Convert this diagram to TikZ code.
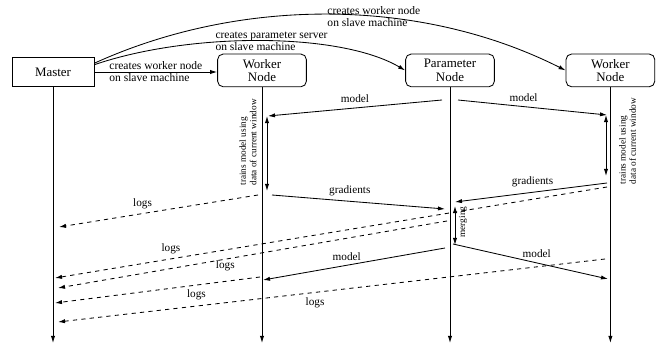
\documentclass[tikz,border=0pt]{standalone}
\usepackage{fontspec}
\setmainfont{Liberation Serif}
\usetikzlibrary{
    arrows.meta,
    calc,
    positioning
}

\begin{document}
\begin{tikzpicture}[
    >={Latex[length=5pt,width=3pt]},
    line width=0.6pt,
    master/.style={draw, minimum width=2.05cm, minimum height=0.72cm, font=\fontsize{9.2}{9.5}\selectfont},
    actor/.style={draw, rounded corners=4pt, minimum width=2.22cm, minimum height=0.82cm, align=center, font=\fontsize{9.2}{9.5}\selectfont},
    create/.style={align=left, font=\fontsize{8.2}{8.6}\selectfont},
    lbl/.style={font=\fontsize{8}{9}\selectfont},
    side/.style={rotate=90, align=left, font=\fontsize{6.6}{7.4}\selectfont}
]
\useasboundingbox (0,0) rectangle (16.475,-8.775);

\node[master] (m) at (1.325,-1.8) {Master};
\node[actor] (w1) at (6.55,-1.76) {Worker\\Node};
\node[actor] (ps) at (11.25,-1.76) {Parameter\\Node};
\node[actor] (w2) at (15.26,-1.76) {Worker\\Node};

% lifelines
\coordinate (mEnd) at (1.325,-8.575);
\coordinate (w1End) at (6.55,-8.575);
\coordinate (psEnd) at (11.25,-8.575);
\coordinate (w2End) at (15.26,-8.575);
\draw[->] (m) -- (mEnd);
\draw[->] (w1) -- (w1End);
\draw[->] (ps) -- (psEnd);
\draw[->] (w2) -- (w2End);

% master starts the other nodes
\draw[->] (m.east) -- node[create, midway]{creates worker node\\on slave machine} (m.east -| w1.west);
\draw[->] (m.10) .. controls (4.75,-0.8) and (8.5,-0.8) .. node[create, pos=0.53]{creates parameter server\\on slave machine} (ps.west);
\draw[->] (m.12) .. controls (6.0,0.075) and (10.5,0.075) .. node[create, pos=0.59]{creates worker node\\on slave machine} (w2.west);

% points on the lifelines
\coordinate (mod1a) at (11.05,-2.5);
\coordinate (mod1b) at (6.7,-2.9);
\coordinate (mod2a) at (11.45,-2.5);
\coordinate (mod2b) at (15.175,-2.875);
\coordinate (tr1a) at (6.675,-2.9);
\coordinate (tr1b) at (6.675,-4.775);
\coordinate (tr2a) at (15.15,-2.875);
\coordinate (tr2b) at (15.15,-4.4);
\coordinate (gr1a) at (6.8,-4.875);
\coordinate (gr1b) at (11.125,-5.225);
\coordinate (gr2a) at (15.175,-4.575);
\coordinate (gr2b) at (11.375,-5.05);
\coordinate (mg1) at (11.375,-5.15);
\coordinate (mg2) at (11.375,-6.125);
\coordinate (mod3a) at (11.125,-6.2);
\coordinate (mod3b) at (6.575,-7.0);
\coordinate (mod4a) at (11.325,-6.1);
\coordinate (mod4b) at (15.2,-6.975);
\coordinate (lg1a) at (6.45,-4.875);
\coordinate (lg1b) at (1.475,-5.675);
\coordinate (lg2a) at (15.175,-4.675);
\coordinate (lg2b) at (1.375,-6.95);
\coordinate (lg3a) at (11.175,-5.525);
\coordinate (lg3b) at (1.45,-7.2);
\coordinate (lg4a) at (6.5,-6.925);
\coordinate (lg4b) at (1.375,-7.575);
\coordinate (lg5a) at (15.125,-6.475);
\coordinate (lg5b) at (1.45,-8.05);

% model sent out, training, gradients back
\draw[->] (mod1a) -- node[lbl, above, pos=0.5]{model} (mod1b);
\draw[->] (mod2a) -- node[lbl, above, pos=0.44]{model} (mod2b);
\draw[<->] (tr1a) -- (tr1b);
\draw[<->] (tr2a) -- (tr2b);
\node[side] (tr1lbl) at (6.2,-3.56) {trains model using\\data of current window};
\node[side] (tr2lbl) at (15.69,-3.525) {trains model using\\data of current window};
\draw[->] (gr1a) -- node[lbl, above, pos=0.45]{gradients} (gr1b);
\draw[->] (gr2a) -- node[lbl, above, pos=0.49]{gradients} (gr2b);
\draw[<->] (mg1) -- (mg2);
\node[side] (mglbl) at (11.575,-5.55) {merging};
\draw[->] (mod3a) -- node[lbl, above, pos=0.54]{model} (mod3b);
\draw[->] (mod4a) -- node[lbl, above, pos=0.54]{model} (mod4b);

% logs to master
\draw[->, dashed] (lg1a) -- node[lbl, above, pos=0.58]{logs} (lg1b);
\draw[->, dashed] (lg2a) -- node[lbl, above, pos=0.79]{logs} (lg2b);
\draw[->, dashed] (lg3a) -- node[lbl, below, inner sep=0.5pt, pos=0.57]{logs} (lg3b);
\draw[->, dashed] (lg4a) -- node[lbl, below, pos=0.31]{logs} (lg4b);
\draw[->, dashed] (lg5a) -- node[lbl, below, pos=0.53]{logs} (lg5b);
\end{tikzpicture}
\end{document}
